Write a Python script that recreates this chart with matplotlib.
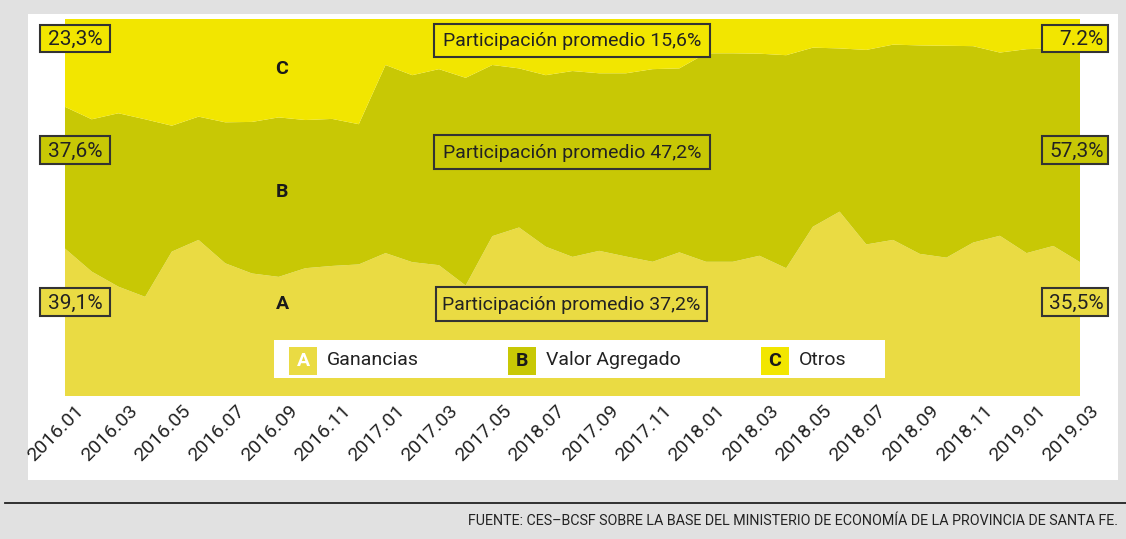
import matplotlib
matplotlib.use("Agg")
import matplotlib.pyplot as plt
import matplotlib.transforms as mtransforms
from matplotlib.patches import Rectangle
import numpy as np

plt.rcParams['font.family'] = ['Roboto', 'DejaVu Sans']

# participación mensual (%) 2016.01 - 2019.03
ganancias = [39.1, 33.0, 29.0, 26.3, 38.3, 41.4, 35.2, 32.5, 31.6, 33.9,
             34.5, 34.9, 37.9, 35.5, 34.7, 29.3, 42.4, 44.7, 39.6, 36.9,
             38.5, 37.0, 35.6, 38.1, 35.6, 35.6, 37.2, 33.9, 44.9, 48.9,
             40.2, 41.4, 37.7, 36.7, 40.7, 42.5, 37.9, 39.8, 35.5]
valor_agregado = [37.6, 40.4, 46.0, 47.1, 33.4, 32.7, 37.4, 40.2, 42.3, 39.3,
                  39.0, 37.2, 49.9, 49.6, 52.0, 55.1, 45.4, 42.2, 45.5, 49.3,
                  47.1, 48.6, 51.1, 48.8, 55.3, 55.3, 53.6, 56.5, 47.5, 43.3,
                  51.6, 51.8, 55.3, 56.2, 52.1, 48.6, 54.1, 52.4, 57.3]
otros = [23.3, 26.6, 25.0, 26.6, 28.3, 25.9, 27.4, 27.3, 26.1, 26.8,
         26.5, 27.9, 12.2, 14.9, 13.3, 15.6, 12.2, 13.1, 14.9, 13.8,
         14.4, 14.4, 13.3, 13.1, 9.1, 9.1, 9.2, 9.6, 7.6, 7.8,
         8.2, 6.8, 7.0, 7.1, 7.2, 8.9, 8.0, 7.8, 7.2]

tick_labels = ['2016.01', '2016.03', '2016.05', '2016.07', '2016.09', '2016.11',
               '2017.01', '2017.03', '2017.05', '2018.07', '2017.09', '2017.11',
               '2018.01', '2018.03', '2018.05', '2018.07', '2018.09', '2018.11',
               '2019.01', '2019.03']

inicio = ['39,1%', '37,6%', '23,3%']
fin = ['35,5%', '57,3%', '7.2%']
promedios = ['Participación promedio 37,2%', 'Participación promedio 47,2%',
             'Participación promedio 15,6%']
letras = ['A', 'B', 'C']
nombres = ['Ganancias', 'Valor Agregado', 'Otros']

col_a = '#eadb43'
col_b = '#c8c805'
col_c = '#f2e600'
colores = [col_a, col_b, col_c]
borde = '#333333'
texto = '#222222'

W, H = 1126, 539
fig = plt.figure(figsize=(W / 100, H / 100), dpi=100)
fig.patch.set_facecolor('#e1e1e1')

# fondo blanco, línea y fuente
bg = fig.add_axes([0, 0, 1, 1])
bg.set_xlim(0, W)
bg.set_ylim(H, 0)
bg.axis('off')
bg.add_patch(Rectangle((28, 14), 1090, 466, facecolor='white', edgecolor='none'))
bg.plot([5, W], [503, 503], color='#222222', lw=1.3)
bg.text(1118, 521, 'FUENTE: CES–BCSF SOBRE LA BASE DEL MINISTERIO DE ECONOMÍA DE LA PROVINCIA DE SANTA FE.',
        ha='right', va='center', fontsize=10.3, color=texto)

# área apilada
ax = fig.add_axes([65 / W, 1 - 396 / H, 1015 / W, 377 / H])
x = np.arange(len(ganancias))
ax.stackplot(x, ganancias, valor_agregado, otros, colors=colores, lw=0)
ax.set_xlim(0, len(x) - 1)
ax.set_ylim(0, 100)
for s in ax.spines.values():
    s.set_visible(False)
ax.set_yticks([])
ax.set_xticks(np.arange(0, len(x), 2))
ax.set_xticklabels(tick_labels, rotation=45, ha='right', va='top',
                   rotation_mode='anchor', fontsize=14, color=texto)
ax.tick_params(axis='x', length=0, pad=4)
offset = mtransforms.ScaledTranslation(10 / 100, 0, fig.dpi_scale_trans)
for lab in ax.get_xticklabels():
    lab.set_transform(lab.get_transform() + offset)

# cajas y leyenda
ov = fig.add_axes([0, 0, 1, 1])
ov.set_xlim(0, W)
ov.set_ylim(H, 0)
ov.axis('off')
ov.patch.set_alpha(0)

filas = [(288, 316), (136, 164), (25, 52)]
for i in range(3):
    y0, y1 = filas[i]
    ov.add_patch(Rectangle((40, y0), 70, y1 - y0, facecolor=colores[i], edgecolor=borde, lw=1.5))
    ov.text(75, (y0 + y1) / 2 + 1, inicio[i], ha='center', va='center', fontsize=15,
            color=texto)
    ov.add_patch(Rectangle((1042, y0), 66, y1 - y0, facecolor=colores[i], edgecolor=borde, lw=1.5))
    ov.text(1104, (y0 + y1) / 2 + 1, fin[i], ha='right', va='center', fontsize=15,
            color=texto)

cajas = [(436, 287, 271, 34), (434, 135, 276, 34), (434, 24, 276, 33)]
for i in range(3):
    bx, by, bw, bh = cajas[i]
    ov.add_patch(Rectangle((bx, by), bw, bh, facecolor=colores[i], edgecolor=borde, lw=1.5))
    ov.text(bx + bw / 2, by + bh / 2 + 1, promedios[i], ha='center', va='center',
            fontsize=14, color=texto)

letra_y = [304, 192, 69]
for i in range(3):
    ov.text(282, letra_y[i], letras[i], ha='center', va='center', fontsize=14,
            fontweight='bold', color='#1a1a1a')

ov.add_patch(Rectangle((274, 340), 611, 38, facecolor='white', edgecolor='none'))
leg_x = [289, 508, 761]
for i in range(3):
    ov.add_patch(Rectangle((leg_x[i], 347), 28, 28, facecolor=colores[i], edgecolor='none'))
    ov.text(leg_x[i] + 14, 361.5, letras[i], ha='center', va='center', fontsize=14,
            fontweight='bold', color='white' if i == 0 else '#1a1a1a')
    ov.text(leg_x[i] + 38, 360, nombres[i], ha='left', va='center', fontsize=14,
            color=texto)

plt.savefig('out.png', dpi=100, facecolor=fig.get_facecolor())
